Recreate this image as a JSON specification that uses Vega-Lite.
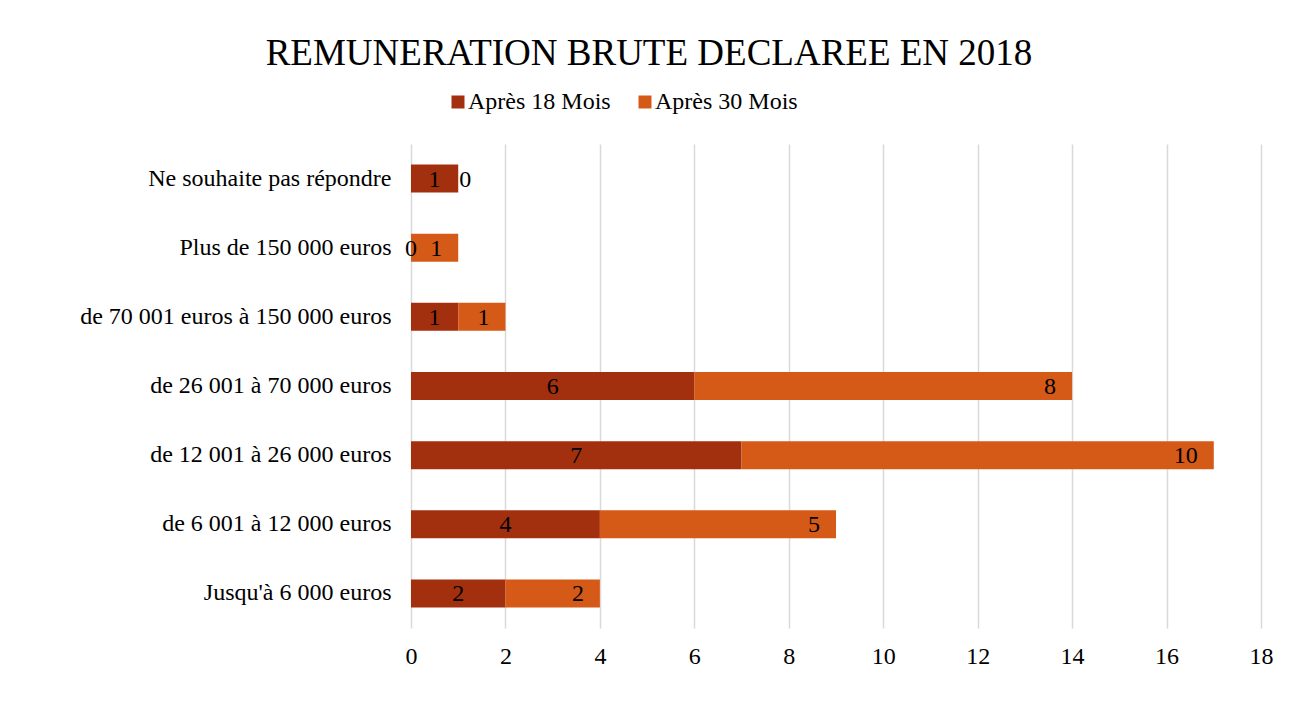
{
  "$schema": "https://vega.github.io/schema/vega-lite/v6.json",
  "autosize": {"type": "none"},
  "width": 850,
  "height": 484,
  "padding": {"left": 411, "top": 144, "right": 33, "bottom": 83},
  "background": "white",
  "title": {
    "text": "REMUNERATION BRUTE DECLAREE EN 2018",
    "anchor": "middle",
    "frame": "group",
    "dx": -187,
    "baseline": "alphabetic",
    "offset": -12,
    "font": "Liberation Serif",
    "fontSize": 37,
    "fontWeight": "normal",
    "color": "#000000"
  },
  "data": {
    "values": [
      {"cat": "Ne souhaite pas répondre", "series": "Après 18 Mois", "value": 1},
      {"cat": "Ne souhaite pas répondre", "series": "Après 30 Mois", "value": 0},
      {"cat": "Plus de 150 000 euros", "series": "Après 18 Mois", "value": 0},
      {"cat": "Plus de 150 000 euros", "series": "Après 30 Mois", "value": 1},
      {"cat": "de 70 001 euros à 150 000 euros", "series": "Après 18 Mois", "value": 1},
      {"cat": "de 70 001 euros à 150 000 euros", "series": "Après 30 Mois", "value": 1},
      {"cat": "de 26 001 à 70 000 euros", "series": "Après 18 Mois", "value": 6},
      {"cat": "de 26 001 à 70 000 euros", "series": "Après 30 Mois", "value": 8},
      {"cat": "de 12 001 à 26 000 euros", "series": "Après 18 Mois", "value": 7},
      {"cat": "de 12 001 à 26 000 euros", "series": "Après 30 Mois", "value": 10},
      {"cat": "de 6 001 à 12 000 euros", "series": "Après 18 Mois", "value": 4},
      {"cat": "de 6 001 à 12 000 euros", "series": "Après 30 Mois", "value": 5},
      {"cat": "Jusqu'à 6 000 euros", "series": "Après 18 Mois", "value": 2},
      {"cat": "Jusqu'à 6 000 euros", "series": "Après 30 Mois", "value": 2}
    ]
  },
  "transform": [
    {"stack": "value", "groupby": ["cat"], "sort": [{"field": "series", "order": "ascending"}], "as": ["x0", "x1"]}
  ],
  "encoding": {
    "y": {
      "field": "cat",
      "type": "nominal",
      "sort": null,
      "scale": {"paddingInner": 0.595, "paddingOuter": 0.2975},
      "axis": {
        "title": null,
        "ticks": false,
        "domain": false,
        "labelPadding": 20,
        "labelFont": "Liberation Serif",
        "labelFontSize": 24,
        "labelColor": "#000000",
        "labelLimit": 400
      }
    }
  },
  "layer": [
    {
      "mark": {"type": "bar"},
      "encoding": {
        "x": {
          "field": "x0",
          "type": "quantitative",
          "scale": {"domain": [0, 18], "nice": false},
          "axis": {
            "title": null,
            "values": [0, 2, 4, 6, 8, 10, 12, 14, 16, 18],
            "ticks": false,
            "domain": false,
            "grid": true,
            "gridColor": "#d9d9d9",
            "gridWidth": 1.5,
            "labelPadding": 16,
            "labelFont": "Liberation Serif",
            "labelFontSize": 24,
            "labelColor": "#000000",
            "labelFlush": false
          }
        },
        "x2": {"field": "x1"},
        "color": {
          "field": "series",
          "type": "nominal",
          "scale": {"domain": ["Après 18 Mois", "Après 30 Mois"], "range": ["#A2300F", "#D65A17"]},
          "legend": {
            "title": null,
            "orient": "none",
            "direction": "horizontal",
            "legendX": 35,
            "legendY": -54,
            "padding": 0,
            "symbolType": "square",
            "symbolSize": 169,
            "symbolStrokeWidth": 0,
            "symbolOpacity": 1,
            "labelFont": "Liberation Serif",
            "labelFontSize": 24,
            "labelColor": "#000000",
            "labelOffset": -2,
            "columnPadding": 22
          }
        }
      }
    },
    {
      "transform": [{"filter": "datum.series === 'Après 18 Mois'"}],
      "mark": {"type": "text", "align": "center", "baseline": "middle", "font": "Liberation Serif", "fontSize": 24, "color": "#000000", "dy": 1},
      "encoding": {
        "x": {"field": "value", "type": "quantitative", "scale": {"domain": [0, 36], "nice": false}, "axis": null},
        "text": {"field": "value", "type": "quantitative"}
      }
    },
    {
      "transform": [{"filter": "datum.series === 'Après 30 Mois' && datum.value > 0"}],
      "mark": {"type": "text", "align": "right", "baseline": "middle", "font": "Liberation Serif", "fontSize": 24, "color": "#000000", "dx": -16, "dy": 1},
      "encoding": {
        "x": {"field": "x1", "type": "quantitative", "scale": {"domain": [0, 18], "nice": false}, "axis": null},
        "text": {"field": "value", "type": "quantitative"}
      }
    },
    {
      "transform": [{"filter": "datum.series === 'Après 30 Mois' && datum.value === 0"}],
      "mark": {"type": "text", "align": "left", "baseline": "middle", "font": "Liberation Serif", "fontSize": 24, "color": "#000000", "dx": 1, "dy": 1},
      "encoding": {
        "x": {"field": "x1", "type": "quantitative", "scale": {"domain": [0, 18], "nice": false}, "axis": null},
        "text": {"field": "value", "type": "quantitative"}
      }
    }
  ],
  "resolve": {"scale": {"x": "independent"}},
  "config": {"view": {"stroke": null}}
}
